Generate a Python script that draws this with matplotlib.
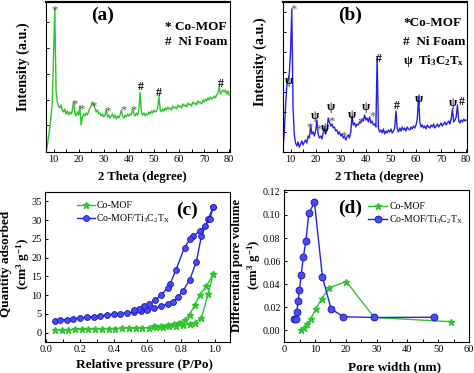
import numpy as np
import matplotlib
matplotlib.use("Agg")
import matplotlib.pyplot as plt
from matplotlib.ticker import MultipleLocator, NullFormatter, FormatStrFormatter

plt.rcParams['font.family'] = ['Liberation Serif', 'DejaVu Serif']
plt.rcParams['mathtext.fontset'] = 'custom'
plt.rcParams['mathtext.rm'] = 'Liberation Serif'
plt.rcParams['mathtext.it'] = 'Liberation Serif:italic'
plt.rcParams['mathtext.bf'] = 'Liberation Serif:bold'

# ---------------- data ----------------
two_theta = np.arange(7.0, 80.01, 0.5)

xrd_comof = [
    0, 6, 15, 24, 36, 50, 95, 144, 62, 50,
    46, 44, 47, 42, 40, 43, 38, 41, 37, 40,
    38, 42, 50, 39, 36, 40, 37, 46, 27, 35,
    38, 36, 39, 37, 41, 44, 46, 50, 47, 44,
    40, 42, 38, 39, 36, 38, 35, 37, 42, 35,
    37, 34, 36, 38, 34, 37, 33, 36, 34, 37,
    42, 36, 34, 37, 35, 38, 36, 38, 37, 43,
    38, 36, 39, 37, 42, 60, 40, 37, 39, 36,
    38, 37, 40, 38, 41, 39, 42, 40, 41, 44,
    56, 42, 40, 43, 41, 44, 42, 45, 43, 44,
    42, 46, 44, 45, 43, 47, 45, 46, 44, 48,
    46, 47, 45, 49, 47, 48, 46, 50, 48, 49,
    47, 51, 49, 50, 48, 52, 50, 53, 51, 54,
    52, 55, 53, 54, 56, 54, 57, 59, 65, 58,
    60, 62, 60, 62, 58, 61, 57]

xrd_composite = [
    3, 20, 45, 66, 72, 78, 100, 143, 45, 17,
    9, 6, 10, 5, 8, 11, 7, 10, 12, 9,
    16, 14, 27, 18, 20, 16, 21, 32, 18, 14,
    16, 13, 19, 25, 18, 22, 34, 30, 26, 28,
    24, 25, 21, 22, 18, 20, 16, 18, 14, 16,
    12, 15, 17, 14, 20, 36, 27, 29, 25, 28,
    27, 30, 29, 33, 31, 37, 32, 34, 30, 35,
    29, 31, 27, 28, 25, 95, 24, 20, 22, 19,
    23, 18, 21, 19, 22, 20, 23, 19, 21, 24,
    41, 23, 20, 24, 21, 25, 22, 24, 21, 25,
    23, 22, 25, 23, 26, 24, 27, 33, 56, 30,
    25, 27, 24, 26, 23, 27, 25, 24, 27, 25,
    28, 24, 26, 28, 25, 27, 29, 26, 28, 30,
    27, 29, 31, 28, 33, 43, 30, 32, 35, 47,
    31, 29, 32, 30, 33, 31, 32]

# peak markers (symbol, 2theta, height)
marks_a = [('*', 10.4, 146), ('*', 18.3, 52), ('*', 21.0, 47), ('*', 26.0, 50),
           ('*', 31.4, 45), ('*', 37.7, 46), ('*', 41.7, 46),
           ('#', 44.7, 65), ('#', 51.9, 59), ('#', 76.7, 68)]
marks_b = [('ψ', 9.4, 71), ('*', 11.35, 147), ('*', 17.6, 29), ('ψ', 19.5, 36),
           ('*', 21.1, 27), ('ψ', 23.5, 24), ('ψ', 26.2, 45), ('*', 26.2, 35),
           ('*', 31.2, 20), ('ψ', 34.5, 37), ('*', 37.8, 34), ('ψ', 40.1, 45),
           ('*', 42.5, 40), ('#', 45.1, 93), ('#', 52.2, 46), ('ψ', 61.1, 53),
           ('ψ', 74.7, 49), ('#', 78.4, 50)]

# BET isotherms
comof_ads_p = [0.05, 0.09, 0.13, 0.17, 0.21, 0.25, 0.29, 0.33, 0.37, 0.41, 0.45, 0.49,
               0.53, 0.57, 0.61, 0.65, 0.69, 0.73, 0.77, 0.81, 0.85, 0.88, 0.92, 0.96, 0.99]
comof_ads_q = [0.7, 0.75, 0.8, 0.85, 0.9, 0.95, 1.0, 1.05, 1.1, 1.1, 1.15, 1.2,
               1.25, 1.3, 1.35, 1.45, 1.55, 1.7, 1.9, 2.1, 2.3, 2.7, 3.9, 10.2, 15.6]
comof_des_p = [0.99, 0.95, 0.91, 0.88, 0.85, 0.82, 0.79, 0.76, 0.72, 0.68, 0.64]
comof_des_q = [15.6, 12.4, 10.0, 7.3, 4.8, 3.4, 2.7, 2.3, 2.0, 1.8, 1.65]

comp_ads_p = [0.05, 0.08, 0.12, 0.16, 0.20, 0.24, 0.28, 0.32, 0.36, 0.40, 0.44, 0.48, 0.52,
              0.56, 0.60, 0.64, 0.68, 0.72, 0.75, 0.78, 0.81, 0.85, 0.89, 0.92, 0.96, 0.99]
comp_ads_q = [3.0, 3.3, 3.5, 3.7, 3.9, 4.1, 4.3, 4.5, 4.7, 4.9, 5.1, 5.3, 5.5,
              5.8, 6.1, 6.5, 7.0, 7.6, 8.3, 9.4, 11.1, 14.0, 18.8, 25.7, 30.2, 33.5]
comp_des_p = [0.99, 0.97, 0.94, 0.91, 0.87, 0.855, 0.82, 0.77, 0.735, 0.72, 0.68,
              0.645, 0.61, 0.58, 0.55, 0.52]
comp_des_q = [33.5, 30.2, 28.4, 27.0, 25.8, 25.1, 22.7, 16.8, 13.0, 11.9, 10.0,
              8.6, 7.7, 7.0, 6.4, 6.0]

# pore size distribution
comof_w = [5.4, 6.4, 7.5, 8.6, 10.2, 12.1, 14.6, 20.2, 29.2, 54.3]
comof_v = [0.0005, 0.002, 0.0055, 0.0098, 0.0185, 0.027, 0.037, 0.042, 0.011, 0.0073]
comp_w = [3.2, 3.7, 4.0, 4.5, 4.9, 5.45, 6.2, 7.0, 7.95, 9.8, 12.4, 15.2, 19.1, 29.2, 48.6]
comp_v = [0.0093, 0.0095, 0.0154, 0.0252, 0.0348, 0.0475, 0.0638, 0.0771, 0.1014, 0.111,
          0.0458, 0.0186, 0.0116, 0.011, 0.0112]

GREEN = '#2ec42e'
BLUE = '#2323e6'
W, H = 474, 373

fig = plt.figure(figsize=(W / 100, H / 100), dpi=100)


def rect(l, t, r, b):
    return [l / W, 1 - b / H, (r - l) / W, (b - t) / H]


def P(x, y):
    return (x / W, 1 - y / H)


def style(ax):
    for s in ax.spines.values():
        s.set_linewidth(0.8)
    ax.tick_params(direction='in', which='both', length=2.5, width=0.7,
                   labelsize=7.5, pad=2.5, top=False, right=False)


def flabel(ax, which, text, x, y, size=9.5, **kw):
    if which == 'x':
        ax.set_xlabel(text, fontweight='bold', fontsize=size, va='center', ha='center', **kw)
        ax.xaxis.set_label_coords(*P(x, y), transform=fig.transFigure)
    else:
        ax.set_ylabel(text, fontweight='bold', fontsize=size, va='center', ha='center',
                      multialignment='center', linespacing=1.15, **kw)
        ax.yaxis.set_label_coords(*P(x, y), transform=fig.transFigure)


def peak_marks(ax, marks):
    for sym, x, y in marks:
        if sym == '*':
            ax.text(x, y - 4, sym, ha='center', va='center', fontsize=9, color='#555555')
        else:
            ax.text(x, y, sym, ha='center', va='center', fontsize=8.5,
                    fontweight='bold', color='black')


# ---------------- (a) ----------------
axa = fig.add_axes(rect(46, 1.5, 230, 152))
axa.plot(two_theta, xrd_comof, color=GREEN, lw=1.0)
axa.set_xlim(7, 80.3)
axa.set_ylim(0, 150.5)
axa.xaxis.set_major_locator(MultipleLocator(10))
axa.xaxis.set_minor_locator(MultipleLocator(5))
axa.set_yticks([27, 52, 78, 104, 130])
axa.yaxis.set_major_formatter(NullFormatter())
style(axa)
axa.spines['top'].set_linewidth(1.6)
flabel(axa, 'x', '2 Theta (degree)', 142, 177, size=9.2)
flabel(axa, 'y', 'Intensity (a.u.)', 23, 67, size=10.2)
peak_marks(axa, marks_a)
fig.text(*P(103, 15), '(a)', fontsize=14, fontweight='bold', ha='center', va='center')
fig.text(*P(165, 27), '* Co-MOF', fontsize=9.5, fontweight='bold', ha='left', va='center')
fig.text(*P(165, 42), '#  Ni Foam', fontsize=9.5, fontweight='bold', ha='left', va='center')

# ---------------- (b) ----------------
axb = fig.add_axes(rect(283, 1.5, 467, 152))
axb.plot(two_theta, xrd_composite, color=BLUE, lw=1.0)
axb.set_xlim(7, 80.3)
axb.set_ylim(0, 150.5)
axb.xaxis.set_major_locator(MultipleLocator(10))
axb.xaxis.set_minor_locator(MultipleLocator(5))
axb.set_yticks([20, 60, 100, 140])
axb.set_yticks([40, 80, 120], minor=True)
axb.yaxis.set_major_formatter(NullFormatter())
style(axb)
axb.spines['top'].set_linewidth(1.6)
flabel(axb, 'x', '2 Theta (degree)', 379, 177, size=9.2)
flabel(axb, 'y', 'Intensity (a.u.)', 260, 62, size=10.2)
peak_marks(axb, marks_b)
fig.text(*P(350, 15), '(b)', fontsize=14, fontweight='bold', ha='center', va='center')
fig.text(*P(403, 23), '*Co-MOF', fontsize=9.5, fontweight='bold', ha='left', va='center')
fig.text(*P(403, 42), '#  Ni Foam', fontsize=9.5, fontweight='bold', ha='left', va='center')
fig.text(*P(403, 61), r'ψ  Ti$_\mathbf{3}$C$_\mathbf{2}$T$_\mathbf{x}$', fontsize=9.2,
         fontweight='bold', ha='left', va='center')

# ---------------- (c) ----------------
axc = fig.add_axes(rect(45, 192, 230, 342))
mk_g = dict(color=GREEN, marker='*', ms=5, lw=1.0)
mk_b = dict(color=BLUE, marker='o', ms=4.2, lw=1.0, mfc='#4a4af5', mec='#1515b5', mew=0.6)
axc.plot(comof_ads_p, comof_ads_q, label='Co-MOF', **mk_g)
axc.plot(comof_des_p, comof_des_q, **mk_g)
axc.plot(comp_ads_p, comp_ads_q, label=r'Co-MOF/Ti$_3$C$_2$T$_\mathrm{X}$', **mk_b)
axc.plot(comp_des_p, comp_des_q, **mk_b)
axc.set_xlim(-0.008, 1.09)
axc.set_ylim(-2.5, 37.5)
axc.xaxis.set_major_locator(MultipleLocator(0.2))
axc.xaxis.set_minor_locator(MultipleLocator(0.1))
axc.yaxis.set_major_locator(MultipleLocator(5))
axc.xaxis.set_major_formatter(FormatStrFormatter('%.1f'))
style(axc)
axc.legend(loc='upper left', bbox_to_anchor=((77 - 45) / 185, 1 - (201 - 192) / 150),
           frameon=False, fontsize=7, borderaxespad=0, borderpad=0,
           handlelength=1.8, handletextpad=0.2, labelspacing=0.25)
flabel(axc, 'x', 'Relative pressure (P/Po)', 145, 365)
flabel(axc, 'y', 'Quantity adsorbed\n(cm$^\\mathbf{3}$ g$^\\mathbf{-1}$)', 16, 264)
fig.text(*P(187, 210), '(c)', fontsize=14, fontweight='bold', ha='center', va='center')

# ---------------- (d) ----------------
axd = fig.add_axes(rect(284, 190, 469, 342))
axd.plot(comof_w, comof_v, label='Co-MOF', **mk_g)
mk_b2 = dict(mk_b)
mk_b2['ms'] = 5
axd.plot(comp_w, comp_v, label=r'Co-MOF/Ti$_3$C$_2$T$_\mathrm{X}$', **mk_b2)
axd.set_xlim(-0.1, 60)
axd.set_ylim(-0.0103, 0.1217)
axd.xaxis.set_major_locator(MultipleLocator(10))
axd.xaxis.set_minor_locator(MultipleLocator(5))
axd.yaxis.set_major_locator(MultipleLocator(0.02))
axd.yaxis.set_major_formatter(FormatStrFormatter('%.2f'))
style(axd)
axd.tick_params(axis='y', labelsize=7.2)
axd.legend(loc='upper left', bbox_to_anchor=((368 - 284) / 185, 1 - (202 - 190) / 152),
           frameon=False, fontsize=7, borderaxespad=0, borderpad=0,
           handlelength=2.0, handletextpad=0.2, labelspacing=0.25)
flabel(axd, 'x', 'Pore width (nm)', 395, 367)
flabel(axd, 'y', 'Differential pore volume\n(cm$^\\mathbf{3}$ g$^\\mathbf{-1}$)', 247, 265,
       size=9.2)
fig.text(*P(350, 208), '(d)', fontsize=14, fontweight='bold', ha='center', va='center')

fig.savefig('out.png', dpi=100)
